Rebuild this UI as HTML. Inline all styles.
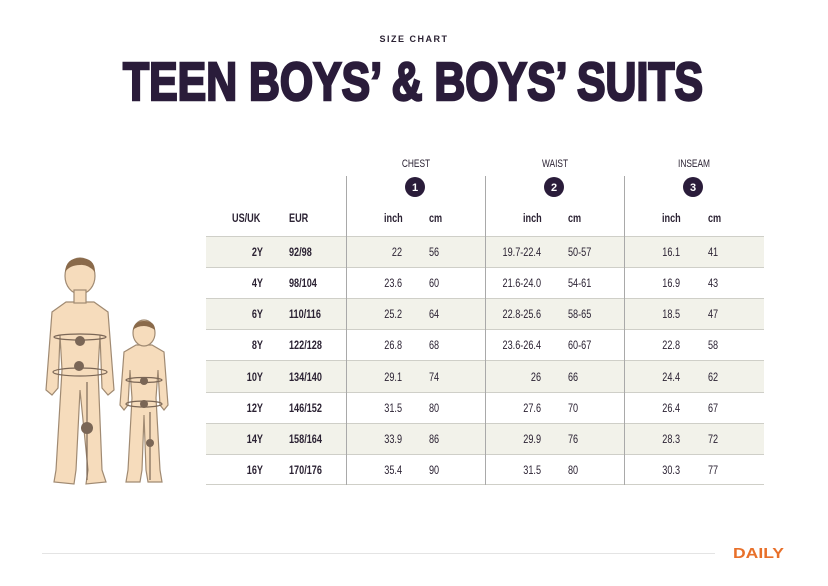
<!DOCTYPE html>
<html><head><meta charset="utf-8"><style>
html,body{margin:0;padding:0;background:#fff}
svg{display:block}
text{font-family:"Liberation Sans",sans-serif;fill:#2b2233}
.c text{transform-box:fill-box;transform:scaleX(.76)}
.r text{transform-origin:right center}
.l text{transform-origin:left center}
.m text{transform-origin:center center}
</style></head><body>
<svg width="828" height="586" viewBox="0 0 828 586" xmlns="http://www.w3.org/2000/svg">
<text x="414" y="42" text-anchor="middle" style="font-size:9px;letter-spacing:1.5px;font-weight:bold" fill="#2b2233">SIZE CHART</text>
<text x="123" y="100" textLength="580" lengthAdjust="spacingAndGlyphs" style="font-size:54px;font-weight:900;stroke:#2a1c3a;stroke-width:2.5;fill:#2a1c3a">TEEN BOYS’ &amp; BOYS’ SUITS</text>

<g fill="#f2f2ea">
<rect x="206" y="237" width="558" height="30"/>
<rect x="206" y="299" width="558" height="30"/>
<rect x="206" y="361" width="558" height="31"/>
<rect x="206" y="424" width="558" height="30"/>
</g>
<g stroke="#cfcfc8" stroke-width="1">
<line x1="206" y1="236.5" x2="764" y2="236.5"/>
<line x1="206" y1="267.5" x2="764" y2="267.5"/>
<line x1="206" y1="298.5" x2="764" y2="298.5"/>
<line x1="206" y1="329.5" x2="764" y2="329.5"/>
<line x1="206" y1="360.5" x2="764" y2="360.5"/>
<line x1="206" y1="392.5" x2="764" y2="392.5"/>
<line x1="206" y1="423.5" x2="764" y2="423.5"/>
<line x1="206" y1="454.5" x2="764" y2="454.5"/>
<line x1="206" y1="484.5" x2="764" y2="484.5"/>
</g>
<g stroke="#a9a9a9" stroke-width="1">
<line x1="346.5" y1="176" x2="346.5" y2="485"/>
<line x1="485.5" y1="176" x2="485.5" y2="485"/>
<line x1="624.5" y1="176" x2="624.5" y2="485"/>
</g>
<g class="c m" style="font-size:11px" text-anchor="middle">
<text x="416" y="167">CHEST</text><text x="555" y="167">WAIST</text><text x="694" y="167">INSEAM</text>
</g>
<g fill="#2a1c3a"><circle cx="415" cy="187" r="10"/><circle cx="554" cy="187" r="10"/><circle cx="693" cy="187" r="10"/></g>
<g style="font-size:11px;font-weight:bold" text-anchor="middle">
<text x="415" y="191" style="fill:#fff">1</text><text x="554" y="191" style="fill:#fff">2</text><text x="693" y="191" style="fill:#fff">3</text>
</g>
<g class="c l" style="font-size:12px;font-weight:bold">
<text x="232" y="222">US/UK</text><text x="289" y="222">EUR</text>
<text x="384" y="222">inch</text><text x="429" y="222">cm</text>
<text x="523" y="222">inch</text><text x="568" y="222">cm</text>
<text x="662" y="222">inch</text><text x="708" y="222">cm</text>
</g>
<g style="font-size:12px">
<g class="c r" text-anchor="end" style="font-weight:bold">
<text x="263" y="256">2Y</text><text x="263" y="287">4Y</text><text x="263" y="318">6Y</text><text x="263" y="349">8Y</text><text x="263" y="381">10Y</text><text x="263" y="412">12Y</text><text x="263" y="443">14Y</text><text x="263" y="474">16Y</text>
</g>
<g class="c l" style="font-weight:bold">
<text x="289" y="256">92/98</text><text x="289" y="287">98/104</text><text x="289" y="318">110/116</text><text x="289" y="349">122/128</text><text x="289" y="381">134/140</text><text x="289" y="412">146/152</text><text x="289" y="443">158/164</text><text x="289" y="474">170/176</text>
</g>
<g class="c r" text-anchor="end">
<text x="402" y="256">22</text><text x="402" y="287">23.6</text><text x="402" y="318">25.2</text><text x="402" y="349">26.8</text><text x="402" y="381">29.1</text><text x="402" y="412">31.5</text><text x="402" y="443">33.9</text><text x="402" y="474">35.4</text>
<text x="541" y="256">19.7-22.4</text><text x="541" y="287">21.6-24.0</text><text x="541" y="318">22.8-25.6</text><text x="541" y="349">23.6-26.4</text><text x="541" y="381">26</text><text x="541" y="412">27.6</text><text x="541" y="443">29.9</text><text x="541" y="474">31.5</text>
<text x="680" y="256">16.1</text><text x="680" y="287">16.9</text><text x="680" y="318">18.5</text><text x="680" y="349">22.8</text><text x="680" y="381">24.4</text><text x="680" y="412">26.4</text><text x="680" y="443">28.3</text><text x="680" y="474">30.3</text>
</g>
<g class="c l">
<text x="429" y="256">56</text><text x="429" y="287">60</text><text x="429" y="318">64</text><text x="429" y="349">68</text><text x="429" y="381">74</text><text x="429" y="412">80</text><text x="429" y="443">86</text><text x="429" y="474">90</text>
<text x="568" y="256">50-57</text><text x="568" y="287">54-61</text><text x="568" y="318">58-65</text><text x="568" y="349">60-67</text><text x="568" y="381">66</text><text x="568" y="412">70</text><text x="568" y="443">76</text><text x="568" y="474">80</text>
<text x="708" y="256">41</text><text x="708" y="287">43</text><text x="708" y="318">47</text><text x="708" y="349">58</text><text x="708" y="381">62</text><text x="708" y="412">67</text><text x="708" y="443">72</text><text x="708" y="474">77</text>
</g>
</g>

<g fill="#f6dcbc" stroke="#a08a72" stroke-width="1.2">
<path d="M66 302 L52 312 L46 390 L52 395 L58 388 L60 335 L62 370 L56 470 L54 482 L74 484 L76 470 L80 390 L88 470 L86 484 L106 482 L102 470 L98 370 L100 335 L102 388 L108 395 L114 390 L108 312 L94 302 Z"/>
<ellipse cx="80" cy="276" rx="15" ry="18"/>
<rect x="74" y="290" width="12" height="13"/>
<path d="M136 345 L124 352 L120 405 L124 410 L128 405 L130 370 L132 398 L128 470 L126 482 L140 482 L142 470 L144 415 L146 470 L148 482 L162 482 L160 470 L156 398 L158 370 L160 405 L164 410 L168 405 L164 352 L152 345 Z"/>
<ellipse cx="144" cy="333" rx="11" ry="13"/>
</g>
<g fill="#8a6a4a"><path d="M65 272 Q66 258 80 258 Q95 258 95 272 Q88 264 80 265 Q70 265 65 272Z"/><path d="M133 330 Q134 321 144 321 Q155 321 155 330 Q149 326 144 326 Q137 326 133 330Z"/></g>
<g stroke="#7a6656" stroke-width="1.2" fill="none">
<ellipse cx="80" cy="337" rx="26" ry="3"/><ellipse cx="80" cy="372" rx="27" ry="4"/>
<line x1="87" y1="382" x2="87" y2="480"/>
<ellipse cx="144" cy="380" rx="18" ry="2.5"/><ellipse cx="144" cy="404" rx="18" ry="3"/>
<line x1="150" y1="412" x2="150" y2="480"/>
</g>
<g fill="#7a6656"><circle cx="80" cy="341" r="5"/><circle cx="79" cy="366" r="5"/><circle cx="87" cy="428" r="6"/><circle cx="144" cy="381" r="4"/><circle cx="144" cy="404" r="4"/><circle cx="150" cy="443" r="4"/></g>

<line x1="42" y1="553.5" x2="715" y2="553.5" stroke="#e4e4e4" stroke-width="1"/>
<text x="733" y="558" textLength="51" lengthAdjust="spacingAndGlyphs" style="font-size:15px;font-weight:900;fill:#e8702a">DAILY</text>
</svg>
</body></html>
